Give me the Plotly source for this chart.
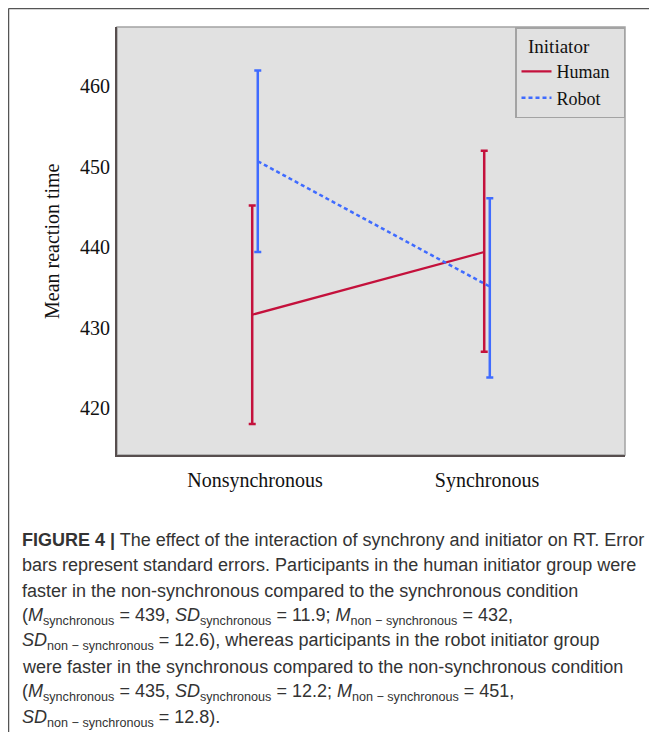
import plotly.graph_objects as go

# ---- data ----
categories = ["Nonsynchronous", "Synchronous"]
human_mean = [431.6, 439.4]
human_upper = [445.2, 452.0]
human_lower = [418.0, 427.0]
robot_mean = [450.7, 435.1]
robot_upper = [462.0, 446.1]
robot_lower = [439.4, 423.8]
y_ticks = [420, 430, 440, 450, 460]
series_names = ["Human", "Robot"]
legend_title = "Initiator"

caption_lines = [
    "<b>FIGURE 4 |</b> The effect of the interaction of synchrony and initiator on RT. Error",
    "bars represent standard errors. Participants in the human initiator group were",
    "faster in the non-synchronous compared to the synchronous condition",
    "(<i>M</i><sub>synchronous</sub> = 439, <i>SD</i><sub>synchronous</sub> = 11.9; <i>M</i><sub>non − synchronous</sub> = 432,",
    "<i>SD</i><sub>non − synchronous</sub> = 12.6), whereas participants in the robot initiator group",
    "were faster in the synchronous compared to the non-synchronous condition",
    "(<i>M</i><sub>synchronous</sub> = 435, <i>SD</i><sub>synchronous</sub> = 12.2; <i>M</i><sub>non − synchronous</sub> = 451,",
    "<i>SD</i><sub>non − synchronous</sub> = 12.8).",
]

# ---- layout geometry (page pixels; the page body adds an 8px offset) ----
OFF = 8
PAGE_W, PAGE_H = 657, 740
W, H = PAGE_W - OFF, PAGE_H - OFF
PLOT_L, PLOT_R, PLOT_T, PLOT_B = 117, 625, 27, 455
ML = PLOT_L - OFF
MR = PAGE_W - PLOT_R
MT = PLOT_T - OFF
MB = PAGE_H - PLOT_B
PW = PLOT_R - PLOT_L
PH = PLOT_B - PLOT_T


def px_x(px):
    return (px - PLOT_L) / PW


def px_y(py):
    return (PLOT_B - py) / PH


RED = "#c4113c"
BLUE = "#3f6bff"
SERIF = "Liberation Serif, Times New Roman, serif"
SANS = "Liberation Sans, Arial, sans-serif"

offset = 0.012
xi = list(range(len(categories)))
pad = "\u00a0\u00a0"

fig = go.Figure()
fig.add_trace(go.Scatter(
    x=[i - offset for i in xi], y=human_mean, mode="lines", name=series_names[0] + pad,
    line=dict(color=RED, width=2.2),
    error_y=dict(type="data", symmetric=False,
                 array=[u - m for u, m in zip(human_upper, human_mean)],
                 arrayminus=[m - l for m, l in zip(human_mean, human_lower)],
                 color=RED, thickness=2.5, width=3.5),
))
fig.add_trace(go.Scatter(
    x=[i + offset for i in xi], y=robot_mean, mode="lines", name=series_names[1] + pad,
    line=dict(color=BLUE, width=2.5, dash="4px,3px"),
    error_y=dict(type="data", symmetric=False,
                 array=[u - m for u, m in zip(robot_upper, robot_mean)],
                 arrayminus=[m - l for m, l in zip(robot_mean, robot_lower)],
                 color=BLUE, thickness=2.5, width=3.5),
))

# plot-area border (light gray top/right)
fig.add_shape(type="rect", xref="paper", yref="paper", x0=0, x1=1, y0=0, y1=1,
              line=dict(color="#a3a3a3", width=1.5), layer="below")
# outer figure frame (left and top)
fig.add_shape(type="line", xref="paper", yref="paper",
              x0=px_x(8.5), x1=px_x(8.5), y0=px_y(8.5), y1=px_y(732),
              line=dict(color="#555555", width=1.5))
fig.add_shape(type="line", xref="paper", yref="paper",
              x0=px_x(8.5), x1=px_x(670), y0=px_y(8.5), y1=px_y(8.5),
              line=dict(color="#555555", width=1.5))

# y-axis title
fig.add_annotation(text="Mean reaction time", xref="paper", yref="paper",
                   x=px_x(52), y=0.5, textangle=-90, showarrow=False,
                   font=dict(family=SERIF, size=20, color="#111111"),
                   xanchor="center", yanchor="middle")

# caption
y0 = 540
step = 25.45
for k, line in enumerate(caption_lines):
    fig.add_annotation(text=line, xref="paper", yref="paper",
                       x=px_x(20), y=px_y(y0 + k * step), showarrow=False,
                       xanchor="left", yanchor="middle", align="left",
                       font=dict(family=SANS, size=18, color="#333333"))

fig.update_layout(
    width=W, height=H,
    margin=dict(l=ML, r=MR, t=MT, b=MB, pad=0),
    paper_bgcolor="white",
    plot_bgcolor="#e1e1e1",
    showlegend=True,
    legend=dict(
        title=dict(text="\u00a0\u00a0" + legend_title,
                   font=dict(family=SERIF, size=19, color="#111111")),
        font=dict(family=SERIF, size=18, color="#111111"),
        x=1, y=1, xanchor="right", yanchor="top",
        bgcolor="#e1e1e1", bordercolor="#a3a3a3", borderwidth=1.5,
        tracegroupgap=0,
    ),
    xaxis=dict(
        range=[-0.5948, 1.5948], tickmode="array", tickvals=xi, ticktext=categories,
        showgrid=False, zeroline=False, ticks="",
        showline=True, linecolor="#574e4e", linewidth=2,
        tickfont=dict(family=SERIF, size=20, color="#111111"),
        ticklabelstandoff=6,
    ),
    yaxis=dict(
        range=[414.15, 467.4], tickmode="array", tickvals=y_ticks,
        showgrid=False, zeroline=False, ticks="",
        showline=True, linecolor="#574e4e", linewidth=2,
        tickfont=dict(family=SERIF, size=20, color="#111111"),
        ticklabelstandoff=1,
    ),
)

fig.write_html("out.html")
